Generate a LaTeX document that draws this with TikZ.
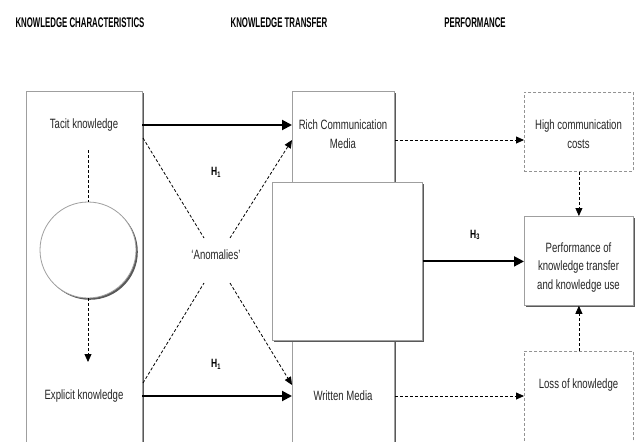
\documentclass[tikz,border=0pt]{standalone}
\usepackage{fontspec}
\setmainfont{Liberation Sans}[FakeStretch=0.71]
\newfontfamily\hdfont{Liberation Sans}[FakeStretch=0.56]
\usetikzlibrary{arrows.meta,shadows}
\begin{document}
\begin{tikzpicture}[x=1pt,y=-1pt,
  box/.style={draw=gray!75, line width=0.8pt, fill=white, inner sep=0pt,
    drop shadow={shadow xshift=1.8pt, shadow yshift=-1.8pt, fill=black!65, opacity=1}},
  dbox/.style={draw=gray!85, line width=0.8pt, dash pattern=on 3pt off 2pt, fill=white, inner sep=0pt},
  txt/.style={font=\fontsize{13.5}{18.8}\selectfont, text=black!85, align=center, inner sep=0pt},
  hd/.style={font=\hdfont\bfseries\fontsize{14}{16}\selectfont, inner sep=0pt},
  hyp/.style={font=\bfseries\fontsize{12}{14}\selectfont, inner sep=0pt},
  solidarr/.style={line width=2pt, -{Triangle[length=10pt,width=10pt]}},
  darr/.style={line width=0.8pt, dash pattern=on 3pt off 2pt, -{Triangle[length=8pt,width=7pt]}},
  dline/.style={line width=0.8pt, dash pattern=on 3pt off 2pt},
]
\useasboundingbox (0,0) rectangle (636,441);
\clip (0,0) rectangle (636,441);
\fill[white] (0,0) rectangle (636,441);

% headers
\node[hd] (hk) at (80,23) {KNOWLEDGE CHARACTERISTICS};
\node[hd] (ht) at (279,23) {KNOWLEDGE TRANSFER};
\node[hd] (hp) at (475,23) {PERFORMANCE};

% left column
\node[box, minimum width=116pt, minimum height=380pt, anchor=north west] (left) at (26,91) {};
\node[txt, minimum width=116pt] (tacit) at (84,125) {Tacit knowledge};
\node[txt, minimum width=116pt] (explicit) at (84,396) {Explicit knowledge};
\node[box, circle, minimum size=96pt] (circ) at (88,250) {};
\coordinate (c1) at (88,150);
\coordinate (c2) at (88,362);
\draw[dline] (c1) -- (circ.north);
\draw[darr] (circ.south) -- (c2);

% middle column
\node[box, minimum width=102pt, minimum height=110pt, anchor=north west] (rich) at (292,91) {};
\node[txt] (richtxt) at (343,134) {Rich Communication\\Media};
\node[box, minimum width=102pt, minimum height=140pt, anchor=north west] (written) at (292,320) {};
\node[txt] (writtxt) at (343,396) {Written Media};
\node[box, minimum width=150pt, minimum height=158pt, anchor=north west] (big) at (272,182) {};

% right column
\node[dbox, minimum width=109pt, minimum height=79pt, anchor=north west] (high) at (524,92) {};
\node[txt] (hightxt) at (578.5,134.5) {High communication\\costs};
\node[box, minimum width=109pt, minimum height=89pt, anchor=north west] (perf) at (524,216) {};
\node[txt] (perftxt) at (578.5,267.5) {Performance of\\knowledge transfer\\and knowledge use};
\node[dbox, minimum width=109pt, minimum height=120pt, anchor=north west] (loss) at (524,351) {};
\node[txt] (losstxt) at (578.5,385) {Loss of knowledge};

% solid arrows
\draw[solidarr] (tacit.east) -- (tacit.east -| rich.west);
\draw[solidarr] (explicit.east) -- (explicit.east -| written.west);
\draw[solidarr] (big.east) -- (big.east -| perf.west);

% anomalies
\node[txt] (anom) at (216,255) {`Anomalies'};
\coordinate (x1) at (143,138);
\coordinate (x2) at (204,238);
\coordinate (x3) at (230,238);
\coordinate (x4) at (292,140);
\coordinate (x5) at (143,383);
\coordinate (x6) at (204,283);
\coordinate (x7) at (230,283);
\coordinate (x8) at (292,385);
\draw[dline] (x1) -- (x2);
\draw[darr] (x3) -- (x4);
\draw[dline] (x5) -- (x6);
\draw[darr] (x7) -- (x8);

% hypotheses
\node[hyp] (h1a) at (216,172) {H\textsubscript{1}};
\node[hyp] (h1b) at (216,364) {H\textsubscript{1}};
\node[hyp] (h3) at (475,235) {H\textsubscript{3}};

% dashed arrows right
\draw[darr] (rich.east |- x4) -- (high.west |- x4);
\draw[darr] (written.east |- writtxt) -- (loss.west |- writtxt);
\draw[darr] (high.south) -- (perf.north);
\draw[darr] (loss.north) -- (perf.south);
\end{tikzpicture}
\end{document}
